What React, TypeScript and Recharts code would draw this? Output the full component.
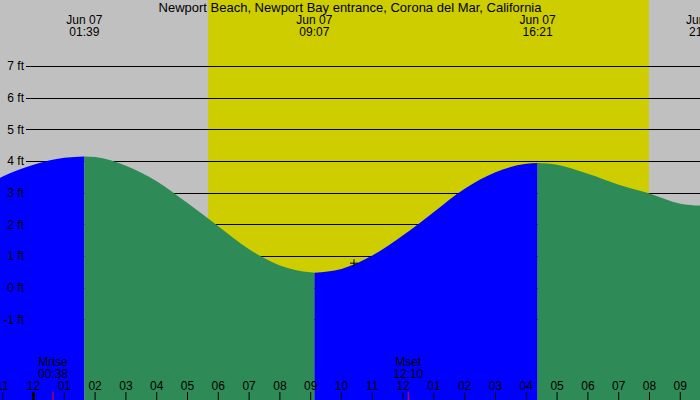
import {
    ComposedChart,
    Area,
    XAxis,
    YAxis,
    ReferenceArea,
    ReferenceLine,
    ReferenceDot,
} from "recharts"

const W = 700
const H = 400
const FONT = "'Liberation Sans', Arial, sans-serif"

const title = "Newport Beach, Newport Bay entrance, Corona del Mar, California"

// hours after midnight, Jun 07
const times = [-1.088, -1, 0, 1, 1.65, 2, 3, 4, 5, 6, 7, 8, 9, 9.117, 10, 11, 12, 13, 14, 15, 16, 16.367, 17, 18, 19, 20, 21, 21.64]
// tide height in ft
const heights = [3.48, 3.52, 3.89, 4.11, 4.15, 4.13, 3.86, 3.37, 2.68, 1.95, 1.22, 0.71, 0.49, 0.48, 0.6, 1.02, 1.66, 2.4, 3.13, 3.65, 3.92, 3.94, 3.89, 3.6, 3.26, 2.98, 2.66, 2.6]

// high, low, high (tide starts rising)
const turnTimes = [1.65, 9.117, 16.367]

const extremeTimes = [1.65, 9.117, 16.367, 21.77]
const extremeLabels = ["01:39", "09:07", "16:21", "21:46"]
const extremeDay = "Jun 07"

const sunrise = 5.67
const sunset = 19.98

const moonTimes = [0.633, 12.167]
const moonNames = ["Mrise", "Mset"]
const moonLabels = ["00:38", "12:10"]

const nowTime = 10.406
const nowHeight = 0.78

const hourTicks = [-1, 0, 1, 2, 3, 4, 5, 6, 7, 8, 9, 10, 11, 12, 13, 14, 15, 16, 17, 18, 19, 20, 21]
const ftTicks = [-1, 0, 1, 2, 3, 4, 5, 6, 7]

const xDomain = [-1.088, 21.64]
const yDomain = [-3.54, 9.09]

const data = times.map((t, i) => {
    const seg = turnTimes.filter((x) => x < t).length
    const onTurn = turnTimes.includes(t)
    const rising = seg % 2 === 0
    const h = heights[i]
    return {
        t,
        flood: rising || onTurn ? h : null,
        ebb: !rising || onTurn ? h : null,
    }
})

const hourLabel = (h: number) => {
    let v = ((h % 12) + 12) % 12
    if (v === 0) v = 12
    return String(v).padStart(2, "0")
}

const txt = { fontFamily: FONT, fontSize: 12, fill: "#000" }

function HourTick(props: any) {
    const { x, payload } = props
    const midnight = ((payload.value % 24) + 24) % 24 === 0
    return (
        <g>
            <line x1={x} y1={H - 8} x2={x} y2={H} stroke="#000" strokeWidth={midnight ? 3 : 1} />
            <text x={x} y={H - 10} textAnchor="middle" {...txt}>
                {hourLabel(payload.value)}
            </text>
        </g>
    )
}

function FtTick(props: any) {
    const { y, payload } = props
    return (
        <text x={24} y={y} dy={4} textAnchor="end" {...txt}>
            {payload.value} ft
        </text>
    )
}

// grid line drawn along the top edge of a thin reference band
const GridLine = (props: any) => {
    const y = Math.round(props.y) + 0.5
    return <line x1={26} y1={y} x2={props.x + props.width} y2={y} stroke="#000" strokeWidth={1} />
}

const extremeLabel = (label: string) => (props: any) => {
    const x = props.viewBox?.x ?? 0
    return (
        <g>
            <text x={x} y={24} textAnchor="middle" {...txt}>{extremeDay}</text>
            <text x={x} y={36} textAnchor="middle" {...txt}>{label}</text>
        </g>
    )
}

const moonLabel = (name: string, label: string) => (props: any) => {
    const x = props.viewBox?.x ?? 0
    return (
        <g>
            <text x={x} y={366} textAnchor="middle" {...txt}>{name}</text>
            <text x={x} y={378} textAnchor="middle" {...txt}>{label}</text>
            <line x1={x} y1={H - 8} x2={x} y2={H} stroke="#ff0000" strokeWidth={1} />
        </g>
    )
}

const NowMark = (props: any) => {
    const { cx, cy } = props
    return (
        <g>
            <line x1={cx - 4} y1={cy} x2={cx + 4} y2={cy} stroke="#000" />
            <line x1={cx} y1={cy - 4} x2={cx} y2={cy + 4} stroke="#000" />
        </g>
    )
}

export default function App() {
    return (
        <div style={{ position: "absolute", left: 0, top: 0, width: W, height: H, background: "#c0c0c0" }}>
            <ComposedChart width={W} height={H} data={data} margin={{ top: 0, right: 0, bottom: 0, left: 0 }}>
                <XAxis
                    dataKey="t"
                    type="number"
                    domain={xDomain}
                    allowDataOverflow
                    ticks={hourTicks}
                    interval={0}
                    mirror
                    axisLine={false}
                    tickLine={false}
                    tick={<HourTick />}
                />
                <YAxis
                    type="number"
                    domain={yDomain}
                    allowDataOverflow
                    ticks={ftTicks}
                    interval={0}
                    mirror
                    axisLine={false}
                    tickLine={false}
                    tick={<FtTick />}
                />
                <ReferenceArea
                    x1={sunrise}
                    x2={sunset}
                    fill="#cdcd00"
                    fillOpacity={1}
                    stroke="none"
                    zIndex={-60}
                />
                {ftTicks.map((v) => (
                    <ReferenceArea
                        key={"g" + v}
                        y1={v}
                        y2={v + 0.01}
                        shape={<GridLine />}
                        zIndex={-50}
                    />
                ))}
                <Area
                    dataKey="flood"
                    type="monotone"
                    fill="#0000ff"
                    fillOpacity={1}
                    stroke="none"
                    baseValue="dataMin"
                    dot={false}
                    activeDot={false}
                    isAnimationActive={false}
                    connectNulls={false}
                />
                <Area
                    dataKey="ebb"
                    type="monotone"
                    fill="#2e8b57"
                    fillOpacity={1}
                    stroke="none"
                    baseValue="dataMin"
                    dot={false}
                    activeDot={false}
                    isAnimationActive={false}
                    connectNulls={false}
                />
                {extremeTimes.map((t, i) => (
                    <ReferenceLine
                        key={"e" + i}
                        x={t}
                        stroke="none"
                        ifOverflow="visible"
                        label={extremeLabel(extremeLabels[i])}
                    />
                ))}
                {moonTimes.map((t, i) => (
                    <ReferenceLine
                        key={"m" + i}
                        x={t}
                        stroke="none"
                        label={moonLabel(moonNames[i], moonLabels[i])}
                    />
                ))}
                <ReferenceDot x={nowTime} y={nowHeight} shape={<NowMark />} />
                <text x={W / 2} y={12} textAnchor="middle" {...txt} fontSize={13}>
                    {title}
                </text>
            </ComposedChart>
        </div>
    )
}
